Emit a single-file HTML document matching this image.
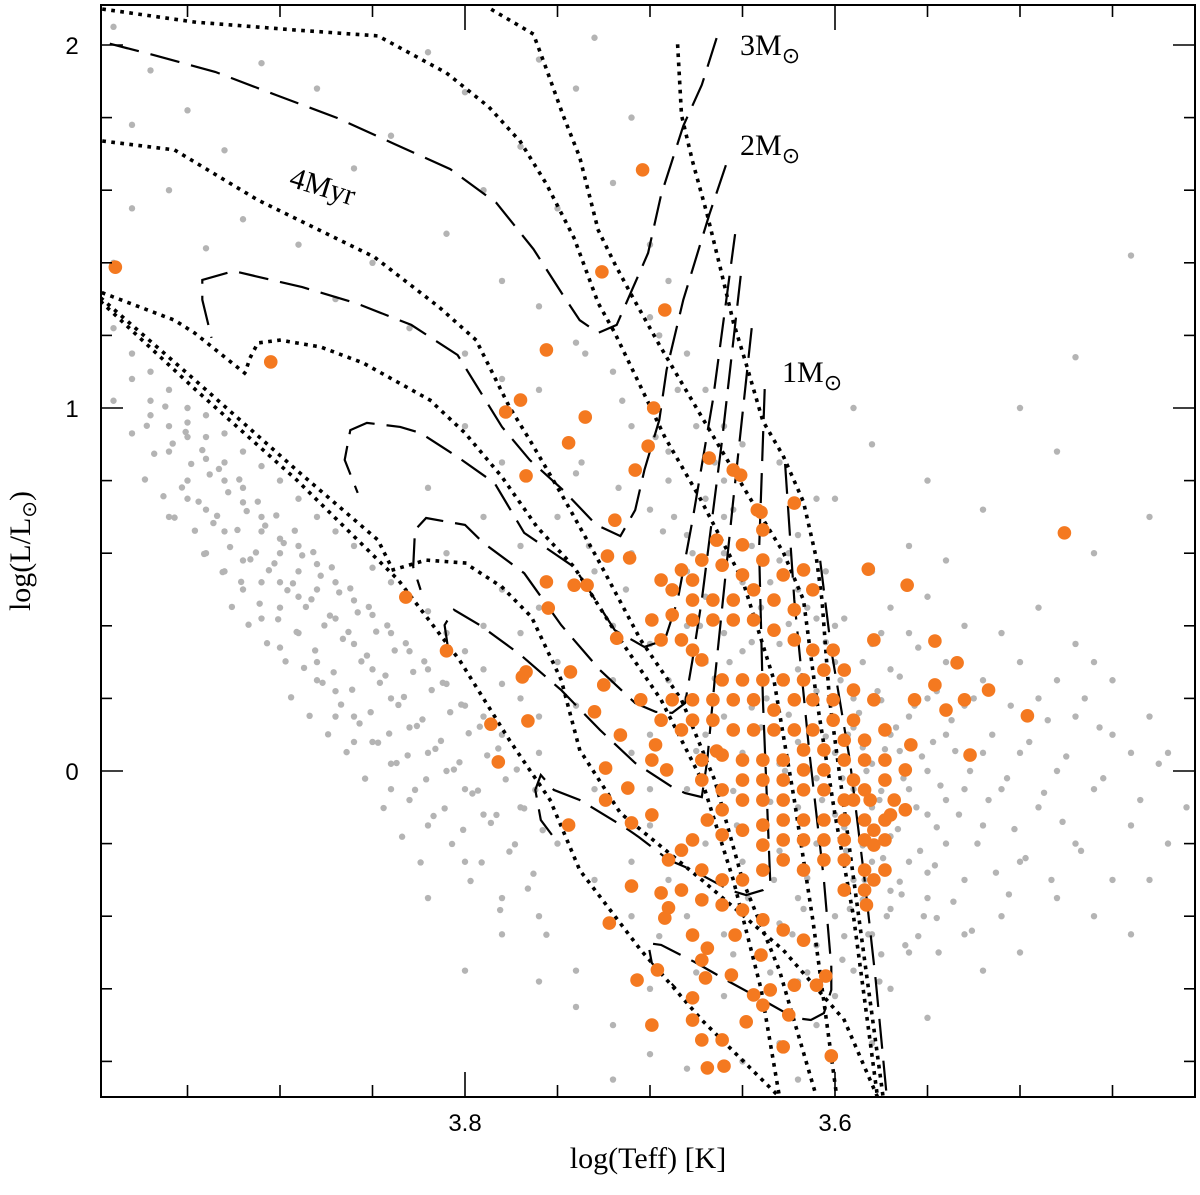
<!DOCTYPE html>
<html><head><meta charset="utf-8">
<style>
html,body{margin:0;padding:0;background:#fff;}
svg{display:block;}
.tick{font-family:"Liberation Sans",sans-serif;font-size:24px;fill:#000;}
.lab{font-family:"Liberation Serif",serif;font-size:30px;fill:#000;}
</style></head>
<body>
<svg id="chart" width="1200" height="1195" viewBox="0 0 1200 1195" xmlns="http://www.w3.org/2000/svg">
<rect x="0" y="0" width="1200" height="1195" fill="#fff"/>
<g id="gray"></g>
<g id="lines"></g>
<g id="orange"></g>
<g id="axes"></g>
<text class="lab" x="740" y="55">3M<tspan font-size="22" dy="8">⊙</tspan></text>
<text class="lab" x="740" y="155">2M<tspan font-size="22" dy="8">⊙</tspan></text>
<text class="lab" x="782" y="382">1M<tspan font-size="22" dy="8">⊙</tspan></text>
<text class="lab" transform="translate(288,186) rotate(17)">4Myr</text>
<text class="lab" x="648" y="1168" text-anchor="middle" font-size="28">log(Teff) [K]</text>
<text class="lab" transform="translate(30,551) rotate(-90)" text-anchor="middle" font-size="28">log(L/L<tspan font-size="20" dy="6">⊙</tspan><tspan dy="-6">)</tspan></text>
</svg>
<script>
const xTicksMajor = [3.8, 3.6];
const yTicksMajor = [0, 1, 2];
const xTickLabels = ["3.8", "3.6"];
const yTickLabels = ["0", "1", "2"];

const orangeStars = [[3.989,1.388],[3.905,1.127],[3.704,1.656],[3.726,1.375],[3.692,1.270],[3.756,1.160],[3.778,0.989],[3.770,1.022],[3.735,0.975],[3.698,1.000],[3.744,0.904],[3.767,0.813],[3.719,0.691],[3.701,0.895],[3.708,0.829],[3.668,0.862],[3.655,0.829],[3.651,0.815],[3.622,0.738],[3.640,0.713],[3.723,0.592],[3.756,0.521],[3.741,0.512],[3.734,0.512],[3.755,0.449],[3.718,0.366],[3.711,0.587],[3.832,0.479],[3.810,0.331],[3.786,0.129],[3.782,0.025],[3.769,0.259],[3.766,0.138],[3.767,0.273],[3.743,0.273],[3.725,0.237],[3.730,0.163],[3.724,0.008],[3.697,0.072],[3.691,0.003],[3.664,0.055],[3.744,-0.149],[3.712,-0.047],[3.710,-0.143],[3.724,-0.080],[3.710,-0.317],[3.690,-0.245],[3.699,-0.121],[3.694,-0.336],[3.690,-0.377],[3.692,-0.405],[3.722,-0.419],[3.696,-0.548],[3.707,-0.576],[3.677,-0.625],[3.670,-0.570],[3.699,-0.700],[3.669,-0.818],[3.660,-0.813],[3.648,-0.691],[3.628,-0.760],[3.602,-0.785],[3.661,-0.741],[3.639,-0.645],[3.625,-0.672],[3.672,-0.741],[3.677,-0.686],[3.644,-0.617],[3.640,-0.507],[3.654,-0.452],[3.669,-0.488],[3.677,-0.452],[3.672,-0.521],[3.656,-0.562],[3.635,-0.603],[3.622,-0.590],[3.610,-0.590],[3.605,-0.565],[3.617,-0.466],[3.628,-0.438],[3.639,-0.410],[3.650,-0.383],[3.661,-0.369],[3.672,-0.355],[3.683,-0.328],[3.672,-0.273],[3.661,-0.300],[3.650,-0.300],[3.639,-0.273],[3.628,-0.245],[3.617,-0.273],[3.606,-0.245],[3.595,-0.245],[3.584,-0.273],[3.579,-0.300],[3.573,-0.273],[3.584,-0.328],[3.595,-0.328],[3.583,-0.369],[3.639,-0.204],[3.628,-0.190],[3.617,-0.190],[3.606,-0.190],[3.595,-0.190],[3.584,-0.190],[3.573,-0.190],[3.562,-0.107],[3.568,-0.080],[3.573,-0.135],[3.579,-0.163],[3.584,-0.135],[3.590,-0.080],[3.595,-0.135],[3.606,-0.135],[3.617,-0.135],[3.628,-0.135],[3.639,-0.149],[3.650,-0.163],[3.661,-0.176],[3.669,-0.135],[3.677,-0.190],[3.683,-0.218],[3.661,-0.107],[3.650,-0.080],[3.639,-0.080],[3.628,-0.080],[3.617,-0.052],[3.606,-0.052],[3.595,-0.080],[3.584,-0.052],[3.573,-0.025],[3.562,0.003],[3.559,0.072],[3.573,0.030],[3.584,0.030],[3.595,0.030],[3.606,0.003],[3.617,0.003],[3.628,-0.025],[3.639,-0.025],[3.650,-0.025],[3.661,-0.052],[3.672,-0.025],[3.672,0.030],[3.661,0.044],[3.650,0.030],[3.639,0.030],[3.628,0.030],[3.617,0.058],[3.606,0.058],[3.595,0.085],[3.584,0.085],[3.573,0.113],[3.590,0.140],[3.601,0.140],[3.612,0.113],[3.622,0.113],[3.633,0.113],[3.644,0.113],[3.655,0.113],[3.666,0.140],[3.677,0.140],[3.683,0.113],[3.688,0.196],[3.677,0.196],[3.666,0.196],[3.655,0.196],[3.644,0.196],[3.633,0.168],[3.622,0.196],[3.612,0.196],[3.601,0.196],[3.590,0.223],[3.595,0.278],[3.606,0.278],[3.617,0.251],[3.628,0.251],[3.639,0.251],[3.650,0.251],[3.661,0.251],[3.672,0.306],[3.677,0.333],[3.683,0.361],[3.694,0.361],[3.699,0.416],[3.688,0.430],[3.677,0.416],[3.666,0.416],[3.655,0.416],[3.644,0.416],[3.633,0.388],[3.622,0.361],[3.612,0.333],[3.601,0.333],[3.622,0.444],[3.633,0.471],[3.644,0.499],[3.655,0.471],[3.666,0.471],[3.677,0.471],[3.688,0.499],[3.694,0.526],[3.683,0.554],[3.672,0.581],[3.661,0.567],[3.650,0.540],[3.639,0.581],[3.628,0.540],[3.617,0.554],[3.612,0.499],[3.677,0.526],[3.664,0.636],[3.650,0.623],[3.639,0.664],[3.642,0.719],[3.582,0.556],[3.561,0.512],[3.579,0.361],[3.546,0.358],[3.534,0.298],[3.546,0.237],[3.517,0.223],[3.540,0.168],[3.530,0.196],[3.527,0.044],[3.496,0.152],[3.476,0.656],[3.557,0.196],[3.579,0.196],[3.590,-0.025],[3.581,-0.080],[3.570,-0.121],[3.579,-0.204],[3.705,0.196],[3.694,0.140],[3.699,0.030],[3.716,0.099]];

const grayStars = [[3.99,2.05],[3.97,1.93],[3.95,1.82],[3.98,1.78],[3.93,1.71],[3.91,1.95],[3.88,1.88],[3.86,1.66],[3.84,1.75],[3.82,1.98],[3.80,1.87],[3.79,1.60],[3.77,1.72],[3.75,1.55],[3.74,1.88],[3.72,1.62],[3.70,1.45],[3.71,1.80],[3.73,2.02],[3.76,1.96],[3.96,1.60],[3.92,1.52],[3.89,1.45],[3.85,1.40],[3.81,1.48],[3.78,1.35],[3.76,1.28],[3.74,1.18],[3.72,1.10],[3.70,1.25],[3.69,1.35],[3.68,1.15],[3.94,1.44],[3.98,1.55],[3.99,1.40],[3.87,1.30],[3.83,1.22],[3.80,1.15],[3.78,1.08],[3.76,1.05],
[3.99,1.22],[3.98,1.15],[3.97,1.10],[3.96,1.05],[3.97,0.98],[3.95,1.00],[3.94,0.92],[3.96,0.88],[3.93,0.85],[3.95,0.80],[3.92,0.78],[3.94,0.72],[3.91,0.70],[3.93,0.66],[3.90,0.64],[3.92,0.58],[3.89,0.55],[3.91,0.52],[3.88,0.50],[3.90,0.45],[3.87,0.42],[3.89,0.38],[3.86,0.35],[3.88,0.30],[3.85,0.28],[3.87,0.22],[3.84,0.20],[3.86,0.15],[3.83,0.12],[3.85,0.08],[3.82,0.05],[3.84,0.02],[3.81,0.00],[3.80,-0.05],[3.83,-0.08],[3.79,-0.12],
[3.98,1.08],[3.97,1.02],[3.96,0.95],[3.95,0.92],[3.94,0.86],[3.93,0.80],[3.92,0.74],[3.91,0.66],[3.90,0.60],[3.89,0.62],[3.88,0.57],[3.87,0.52],[3.86,0.47],[3.85,0.43],[3.84,0.38],[3.83,0.33],[3.82,0.28],[3.81,0.24],[3.80,0.18],[3.79,0.15],[3.78,0.10],
[3.95,0.96],[3.94,0.98],[3.93,0.93],[3.92,0.88],[3.91,0.84],[3.90,0.80],[3.89,0.75],[3.88,0.70],[3.87,0.66],[3.86,0.62],[3.85,0.56],[3.84,0.52],[3.83,0.48],[3.82,0.44],[3.81,0.38],[3.80,0.33],[3.79,0.28],[3.78,0.24],[3.77,0.20],[3.76,0.15],
[3.96,0.70],[3.94,0.60],[3.93,0.55],[3.92,0.50],[3.91,0.42],[3.90,0.34],[3.88,0.25],[3.87,0.15],[3.86,0.08],[3.84,-0.05],[3.82,-0.15],[3.80,-0.25],[3.78,-0.35],[3.90,0.52],[3.89,0.48],[3.95,0.75],[3.99,1.02],[3.98,0.93],
[3.80,0.95],[3.78,0.85],[3.77,0.62],[3.76,0.45],[3.75,0.70],[3.74,0.82],[3.73,0.55],[3.72,0.40],[3.75,0.30],[3.77,0.38],[3.78,0.50],[3.79,0.70],[3.74,0.18],[3.76,0.05],[3.73,-0.05],[3.75,-0.20],[3.77,-0.10],[3.72,0.25],[3.71,0.05],[3.70,-0.15],[3.73,-0.30],[3.71,-0.40],[3.76,-0.40],[3.74,-0.55],[3.70,-0.60],[3.68,-0.82],[3.72,-0.70],[3.79,0.40],[3.81,0.60],[3.82,0.78],[3.71,0.95],[3.69,0.88],[3.70,0.72],[3.68,0.65],[3.71,0.60],[3.69,0.50],[3.70,0.35],[3.68,0.40],[3.69,0.80],[3.67,0.75],[3.66,0.95],[3.67,1.05],[3.66,0.70],
[3.68,0.55],[3.67,0.48],[3.66,0.60],[3.65,0.52],[3.64,0.45],[3.63,0.58],[3.62,0.50],[3.61,0.42],[3.66,0.38],[3.67,0.30],[3.65,0.33],[3.64,0.25],[3.63,0.35],[3.62,0.28],[3.61,0.22],[3.60,0.30],[3.59,0.20],[3.60,0.40],[3.68,0.20],[3.67,0.10],[3.66,0.15],[3.65,0.05],[3.64,0.12],[3.63,0.02],[3.62,0.08],[3.61,-0.02],[3.60,0.05],[3.59,0.12],[3.58,0.02],[3.57,0.10],[3.56,-0.05],[3.58,-0.10],[3.57,-0.18],[3.56,-0.25],[3.55,-0.12],[3.55,0.00],[3.54,-0.08],[3.54,0.10],[3.55,0.20],[3.56,0.15],[3.57,0.28],[3.58,0.35],[3.59,-0.05],[3.60,-0.12],[3.61,-0.20],[3.62,-0.10],[3.63,-0.22],[3.64,-0.15],[3.65,-0.25],[3.66,-0.10],[3.67,-0.20],[3.68,-0.05],[3.69,-0.30],[3.68,-0.40],[3.67,-0.35],[3.66,-0.45],[3.65,-0.38],[3.64,-0.50],[3.63,-0.42],[3.62,-0.35],[3.61,-0.48],[3.60,-0.40],[3.59,-0.30],[3.58,-0.45],[3.57,-0.38],[3.56,-0.50],[3.58,-0.25],[3.59,-0.55],[3.60,-0.62],[3.62,-0.58],[3.64,-0.65],[3.66,-0.62],[3.63,-0.75],[3.61,-0.70],[3.57,-0.60],[3.55,-0.35],[3.54,-0.20],[3.53,-0.30],[3.53,-0.05],[3.52,0.05],[3.53,0.18],[3.54,0.30],[3.56,0.38],[3.57,0.45],[3.55,0.48],[3.58,0.55],[3.62,0.65],[3.64,0.72],[3.66,0.80],[3.63,0.85],[3.61,0.75],[3.65,0.90],[3.70,0.10],[3.69,0.25],[3.70,-0.05],[3.71,-0.25],[3.69,0.00],[3.665,0.255],[3.645,0.175],[3.625,0.155],[3.605,0.095],[3.585,0.065],[3.575,-0.055],[3.595,-0.155],[3.615,-0.295],[3.635,-0.085],[3.655,-0.055],[3.675,0.055],[3.585,-0.355],[3.565,-0.305],[3.545,-0.155],[3.565,0.055],[3.605,0.355],[3.625,0.405],[3.645,0.355],[3.575,0.195],[3.535,0.055],[3.545,-0.405],[3.555,-0.455],[3.575,-0.505],[3.595,-0.455],[3.615,-0.555],[3.635,-0.555],[3.655,-0.505],[3.675,-0.555],[3.695,-0.455],[3.585,-0.205],[3.57,-0.33],[3.55,-0.28],
[3.52,-0.15],[3.51,-0.05],[3.50,0.05],[3.49,-0.10],[3.48,0.00],[3.47,-0.20],[3.46,-0.05],[3.45,0.10],[3.44,-0.15],[3.43,-0.30],[3.42,-0.20],[3.41,-0.10],[3.40,-0.22],[3.50,-0.25],[3.49,0.20],[3.47,0.15],[3.46,0.30],[3.44,0.05],[3.48,-0.35],[3.51,-0.40],[3.52,0.25],[3.50,0.30],[3.53,-0.45],[3.52,-0.55],[3.45,-0.30],[3.43,0.15],[3.42,0.05],[3.47,0.35],[3.49,0.45],[3.51,0.38],[3.53,0.40],[3.50,-0.50],[3.46,-0.40],[3.44,-0.45],[3.48,0.25],[3.45,0.25],
[3.44,1.42],[3.47,1.14],[3.48,0.88],[3.50,1.00],[3.52,0.72],[3.55,0.80],[3.46,0.60],[3.43,0.70],[3.58,0.90],[3.56,0.62],[3.54,0.58],[3.60,0.75],[3.59,1.00],
[3.72,-0.85],[3.70,-0.78],[3.74,-0.65],[3.76,-0.58],[3.62,-0.85],[3.58,-0.75],[3.55,-0.68],[3.65,-0.80],[3.78,-0.45],[3.80,-0.55],[3.82,-0.35]];

const grayStars2 = [[3.972,0.951],[3.968,0.874],[3.973,0.803],[3.962,1.004],[3.958,0.902],[3.963,0.757],[3.957,0.698],[3.951,0.934],[3.948,0.846],[3.953,0.781],[3.946,0.662],[3.942,0.884],[3.938,0.817],[3.944,0.742],[3.936,0.683],[3.941,0.598],[3.933,0.832],[3.928,0.768],[3.934,0.703],[3.927,0.617],[3.931,0.548],[3.926,0.452],
[3.922,0.803],[3.918,0.716],[3.923,0.664],[3.916,0.583],[3.921,0.521],[3.917,0.403],[3.912,0.742],[3.908,0.676],[3.913,0.602],[3.906,0.553],[3.911,0.461],[3.907,0.352],[3.902,0.704],[3.898,0.628],[3.903,0.572],[3.896,0.498],[3.901,0.418],[3.897,0.302],
[3.892,0.662],[3.888,0.594],[3.893,0.517],[3.886,0.452],[3.891,0.383],[3.887,0.284],[3.894,0.203],[3.882,0.603],[3.878,0.538],[3.883,0.473],[3.876,0.401],[3.881,0.332],[3.877,0.243],[3.884,0.152],[3.872,0.561],[3.868,0.492],[3.873,0.428],[3.866,0.364],[3.871,0.272],[3.867,0.183],[3.874,0.101],
[3.862,0.503],[3.858,0.437],[3.863,0.383],[3.856,0.302],[3.861,0.224],[3.857,0.131],[3.864,0.052],[3.852,0.452],[3.848,0.384],[3.853,0.318],[3.846,0.243],[3.851,0.162],[3.847,0.078],[3.854,-0.021],[3.842,0.401],[3.838,0.332],[3.843,0.263],[3.836,0.182],[3.841,0.103],[3.837,0.022],[3.844,-0.102],
[3.832,0.352],[3.828,0.273],[3.833,0.204],[3.826,0.124],[3.831,0.043],[3.827,-0.052],[3.834,-0.181],[3.822,0.302],[3.818,0.223],[3.823,0.142],[3.816,0.061],[3.821,-0.023],[3.817,-0.124],[3.824,-0.252],[3.812,0.243],[3.808,0.162],[3.813,0.083],[3.806,0.004],[3.811,-0.103],[3.807,-0.201],
[3.802,0.183],[3.798,0.104],[3.803,0.024],[3.796,-0.062],[3.801,-0.162],[3.797,-0.303],[3.792,0.122],[3.788,0.043],[3.793,-0.054],[3.786,-0.143],[3.791,-0.252],[3.782,0.062],[3.778,-0.023],[3.783,-0.121],[3.776,-0.222],[3.781,-0.383],[3.772,0.004],[3.768,-0.103],[3.773,-0.202],[3.766,-0.324],[3.762,-0.052],[3.758,-0.163],[3.763,-0.283],[3.756,-0.451],
[3.595,0.42],[3.597,0.25],[3.593,0.10],[3.596,-0.02],[3.594,-0.22],[3.592,-0.38],[3.596,-0.52],[3.585,0.30],[3.587,0.16],[3.583,0.00],[3.586,-0.14],[3.584,-0.30],[3.582,-0.45],[3.575,0.38],[3.577,0.22],[3.573,0.06],[3.576,-0.08],[3.574,-0.24],[3.572,-0.40],[3.576,-0.58],
[3.565,0.26],[3.567,0.12],[3.563,-0.02],[3.566,-0.16],[3.564,-0.34],[3.562,-0.48],[3.555,0.34],[3.557,0.18],[3.553,0.04],[3.556,-0.10],[3.554,-0.22],[3.552,-0.40],[3.545,0.22],[3.547,0.08],[3.543,-0.04],[3.546,-0.26],[3.544,-0.50],[3.535,0.30],[3.537,0.14],[3.533,-0.12],[3.536,-0.36],
[3.525,0.20],[3.527,0.00],[3.523,-0.20],[3.526,-0.44],[3.515,0.10],[3.517,-0.08],[3.513,-0.28],[3.505,0.18],[3.507,-0.02],[3.503,-0.16],[3.506,-0.34],[3.495,0.08],[3.497,-0.24],[3.485,0.14],[3.487,-0.06],[3.483,-0.30],[3.475,0.04],[3.477,-0.14],[3.465,0.20],[3.467,-0.22],[3.455,-0.02],[3.457,0.12],[3.435,-0.08],[3.425,0.02],
[3.735,1.15],[3.737,0.85],[3.733,0.62],[3.715,1.02],[3.717,0.78],[3.713,0.50],[3.695,1.20],[3.697,0.92],[3.693,0.66],[3.685,1.05],[3.687,0.70],[3.675,0.95],[3.677,0.60],[3.673,0.40],[3.665,0.85],[3.667,0.48],[3.655,0.72],[3.657,0.30],[3.653,-0.15],[3.645,0.62],[3.647,-0.35],[3.635,0.52],[3.637,0.20],[3.633,-0.30],[3.625,0.60],[3.627,0.00],[3.623,-0.45],[3.615,0.45],[3.617,-0.38],[3.605,0.55],[3.607,-0.08]];

const track3M = [[3.664,2.019],[3.672,1.890],[3.682,1.777],[3.694,1.587],[3.701,1.427],[3.710,1.322],[3.718,1.229],[3.728,1.207],[3.738,1.242],[3.747,1.311],[3.763,1.438],[3.783,1.565],[3.808,1.658],[3.838,1.727],[3.869,1.799],[3.902,1.862],[3.935,1.926],[3.968,1.972],[4.0,2.014]];
const track2M = [[3.659,1.669],[3.668,1.532],[3.682,1.298],[3.691,1.105],[3.695,0.967],[3.703,0.829],[3.708,0.719],[3.716,0.647],[3.729,0.678],[3.747,0.774],[3.765,0.857],[3.780,0.948],[3.804,1.146],[3.829,1.229],[3.859,1.289],[3.888,1.333],[3.925,1.377],[3.942,1.353],[3.942,1.298],[3.937,1.193]];
const trackM3 = [[3.654,1.479],[3.666,1.022],[3.677,0.691],[3.685,0.471],[3.692,0.361],[3.703,0.342],[3.719,0.388],[3.741,0.562],[3.768,0.656],[3.784,0.793],[3.804,0.865],[3.824,0.931],[3.835,0.948],[3.853,0.959],[3.862,0.939],[3.865,0.857],[3.858,0.766]];
const trackM4 = [[3.651,1.364],[3.661,0.912],[3.672,0.471],[3.677,0.306],[3.681,0.187],[3.688,0.160],[3.697,0.163],[3.708,0.187],[3.727,0.278],[3.748,0.402],[3.768,0.545],[3.790,0.628],[3.800,0.678],[3.821,0.697],[3.827,0.664],[3.828,0.562],[3.824,0.499]];
const trackM5 = [[3.645,1.220],[3.655,0.747],[3.665,0.251],[3.669,0.030],[3.672,-0.072],[3.681,-0.061],[3.688,-0.044],[3.708,0.022],[3.727,0.113],[3.748,0.223],[3.770,0.320],[3.792,0.402],[3.806,0.444],[3.811,0.402],[3.809,0.333]];
const track1M = [[3.638,1.052],[3.641,0.609],[3.639,0.196],[3.635,-0.309],[3.639,-0.328],[3.648,-0.342],[3.657,-0.328],[3.677,-0.273],[3.690,-0.245],[3.706,-0.182],[3.714,-0.154],[3.738,-0.080],[3.752,-0.052],[3.759,-0.011],[3.762,-0.052],[3.759,-0.135],[3.753,-0.176]];
const trackM7 = [[3.627,0.846],[3.622,0.471],[3.614,0.058],[3.606,-0.300],[3.602,-0.540],[3.602,-0.603],[3.606,-0.667],[3.613,-0.686],[3.622,-0.680],[3.639,-0.631],[3.657,-0.581],[3.676,-0.526],[3.694,-0.479],[3.701,-0.474],[3.699,-0.529],[3.686,-0.598]];
const trackM8 = [[3.608,0.579],[3.602,0.333],[3.592,0.030],[3.584,-0.300],[3.578,-0.576],[3.572,-0.898]];

const isoA = [[3.685,1.997],[3.683,1.807],[3.677,1.680],[3.669,1.532],[3.662,1.386],[3.655,1.237],[3.648,1.121],[3.639,0.964],[3.628,0.868],[3.617,0.741],[3.610,0.584],[3.607,0.471],[3.603,0.20],[3.591,-0.256],[3.574,-0.898]];
const isoB = [[3.785,2.096],[3.763,2.030],[3.756,1.934],[3.747,1.807],[3.738,1.691],[3.728,1.490],[3.719,1.397],[3.710,1.311],[3.695,1.174],[3.673,0.984],[3.646,0.752],[3.628,0.603],[3.617,0.471],[3.610,0.20],[3.600,-0.12],[3.590,-0.40],[3.577,-0.898]];
const isoC = [[4.0,2.102],[3.946,2.063],[3.891,2.041],[3.847,2.025],[3.810,1.923],[3.787,1.829],[3.770,1.733],[3.756,1.617],[3.741,1.468],[3.728,1.289],[3.719,1.207],[3.706,1.069],[3.692,0.920],[3.673,0.752],[3.650,0.526],[3.633,0.251],[3.622,-0.080],[3.612,-0.410],[3.599,-0.898]];
const iso4Myr = [[4.0,1.738],[3.957,1.711],[3.912,1.573],[3.849,1.416],[3.814,1.278],[3.794,1.187],[3.776,1.003],[3.765,0.912],[3.747,0.755],[3.728,0.581],[3.705,0.361],[3.683,0.196],[3.665,-0.025],[3.650,-0.300],[3.630,-0.55],[3.610,-0.898]];
const isoE = [[4.0,1.325],[3.957,1.242],[3.946,1.206],[3.919,1.096],[3.916,1.140],[3.912,1.179],[3.900,1.187],[3.878,1.168],[3.855,1.124],[3.819,1.022],[3.800,0.931],[3.780,0.810],[3.761,0.672],[3.741,0.562],[3.716,0.361],[3.694,0.196],[3.672,-0.025],[3.655,-0.30],[3.640,-0.60],[3.630,-0.898]];
const isoF = [[4.0,1.317],[3.946,1.077],[3.891,0.829],[3.847,0.636],[3.839,0.554],[3.821,0.581],[3.800,0.573],[3.780,0.507],[3.764,0.424],[3.748,0.251],[3.738,0.058],[3.716,-0.116],[3.672,-0.300],[3.628,-0.493],[3.595,-0.686],[3.577,-0.898]];
const isoG = [[4.0,1.308],[3.946,1.052],[3.891,0.802],[3.836,0.526],[3.803,0.306],[3.776,0.085],[3.754,-0.080],[3.738,-0.273],[3.705,-0.493],[3.672,-0.686],[3.630,-0.898]];

const X0 = 101, X1 = 1195, Y0 = 5, Y1 = 1097;
function xs(v){ return 465 + (3.8 - v) * 1850; }
function ys(v){ return 771 - v * 363; }
const NS = "http://www.w3.org/2000/svg";
function mk(tag, parent){ const e = document.createElementNS(NS, tag); parent.appendChild(e); return e; }

const grayG = document.getElementById('gray');
grayStars.concat(grayStars2).forEach(p => {
  const c = mk('circle', grayG);
  
  
  c.setAttribute('cx', xs(p[0])); c.setAttribute('cy', ys(p[1])); c.setAttribute('r', 3.2);
  c.setAttribute('fill', '#b4b4b4');
});

const linesG = document.getElementById('lines');
function drawLine(arr, name, dash){
  const p = mk('path', linesG);
  
  
  p.setAttribute('d', arr.map((q,i) => (i ? 'L' : 'M') + xs(q[0]).toFixed(1) + ',' + ys(q[1]).toFixed(1)).join(''));
  p.setAttribute('fill', 'none');
  p.setAttribute('stroke', '#000');
  if (dash === 'dash') { p.setAttribute('stroke-width', 2.2); p.setAttribute('stroke-dasharray', '30 12'); }
  else { p.setAttribute('stroke-width', 3.6); p.setAttribute('stroke-dasharray', '0.1 9'); p.setAttribute('stroke-linecap', 'square'); }
}
drawLine(track3M, 'track-3msun', 'dash');
drawLine(track2M, 'track-2msun', 'dash');
drawLine(trackM3, 'track-3', 'dash');
drawLine(trackM4, 'track-4', 'dash');
drawLine(trackM5, 'track-5', 'dash');
drawLine(track1M, 'track-1msun', 'dash');
drawLine(trackM7, 'track-7', 'dash');
drawLine(trackM8, 'track-8', 'dash');
drawLine(isoA, 'isochrone-a', 'dot');
drawLine(isoB, 'isochrone-b', 'dot');
drawLine(isoC, 'isochrone-c', 'dot');
drawLine(iso4Myr, 'isochrone-4myr', 'dot');
drawLine(isoE, 'isochrone-e', 'dot');
drawLine(isoF, 'isochrone-f', 'dot');
drawLine(isoG, 'isochrone-g', 'dot');

const orG = document.getElementById('orange');
orangeStars.forEach(p => {
  const c = mk('circle', orG);
  
  
  c.setAttribute('cx', xs(p[0])); c.setAttribute('cy', ys(p[1])); c.setAttribute('r', 6.8);
  c.setAttribute('fill', '#f47920');
});

const cp = mk('clipPath', document.getElementById('chart'));
cp.setAttribute('id', 'plotclip');
const cr = mk('rect', cp);
cr.setAttribute('x', X0); cr.setAttribute('y', Y0); cr.setAttribute('width', X1 - X0); cr.setAttribute('height', Y1 - Y0);
linesG.setAttribute('clip-path', 'url(#plotclip)');
grayG.setAttribute('clip-path', 'url(#plotclip)');
orG.setAttribute('clip-path', 'url(#plotclip)');

const ax = document.getElementById('axes');
const frame = mk('rect', ax);


frame.setAttribute('x', X0); frame.setAttribute('y', Y0); frame.setAttribute('width', X1 - X0); frame.setAttribute('height', Y1 - Y0);
frame.setAttribute('fill', 'none'); frame.setAttribute('stroke', '#000'); frame.setAttribute('stroke-width', 2);
function tick(x1,y1,x2,y2){
  const l = mk('line', ax);
  
  
  l.setAttribute('x1', x1); l.setAttribute('y1', y1); l.setAttribute('x2', x2); l.setAttribute('y2', y2);
  l.setAttribute('stroke', '#000'); l.setAttribute('stroke-width', 1.6);
}
for (let i = 0; i <= 12; i++) {
  const v = 4.0 - i * 0.05; const x = xs(v);
  if (x <= X0 + 1 || x >= X1 - 1) continue;
  const major = Math.abs(v*10 - Math.round(v*10)) < 1e-6 && Math.round(v*10) % 2 === 0;
  const len = major ? 25 : 12;
  tick(x, Y1, x, Y1 - len); tick(x, Y0, x, Y0 + len);
}
for (let i = -4; i <= 10; i++) {
  const v = i * 0.2; const y = ys(v);
  if (y <= Y0 || y >= Y1) continue;
  const major = i % 5 === 0;
  const len = major ? 22 : 11;
  tick(X0, y, X0 + len, y); tick(X1, y, X1 - len, y);
}
xTicksMajor.forEach((v,i) => {
  const t = mk('text', ax);
  
  
  t.setAttribute('class', 'tick'); t.setAttribute('x', xs(v)); t.setAttribute('y', 1131); t.setAttribute('text-anchor', 'middle');
  t.textContent = xTickLabels[i];
});
yTicksMajor.forEach((v,i) => {
  const t = mk('text', ax);
  
  
  t.setAttribute('class', 'tick'); t.setAttribute('x', 72); t.setAttribute('y', ys(v) + 9); t.setAttribute('text-anchor', 'middle');
  t.textContent = yTickLabels[i];
});
</script>
</body></html>
